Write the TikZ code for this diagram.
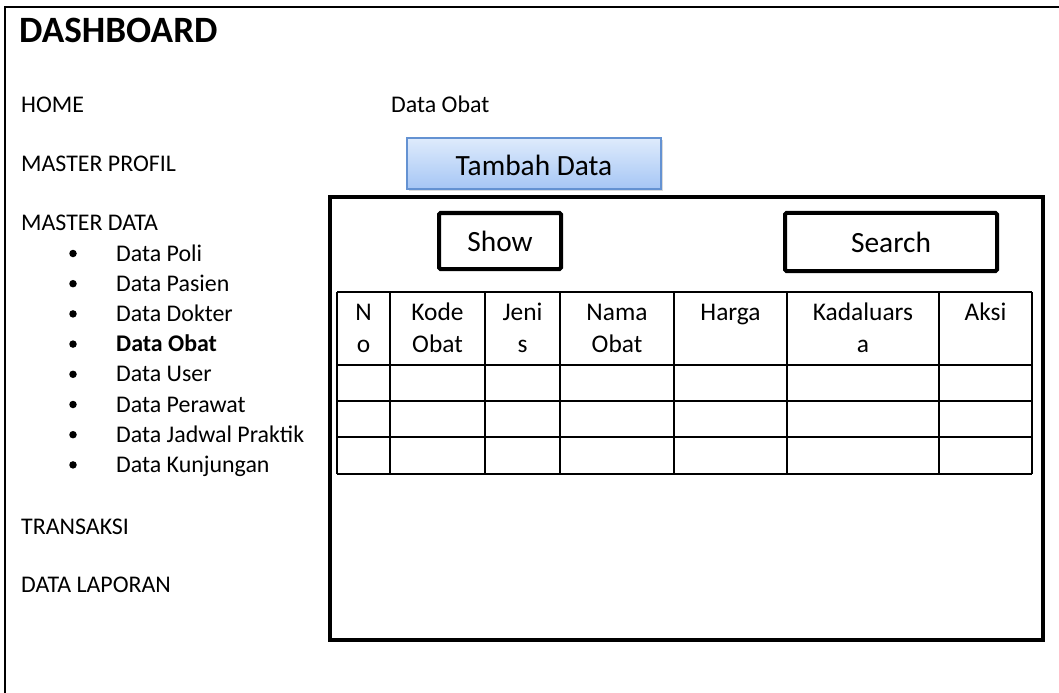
\documentclass[tikz,border=0pt]{standalone}
\usepackage{fontspec}
\setmainfont{Carlito}
\usetikzlibrary{positioning}
\usetikzlibrary{shadows}

\definecolor{btntop}{RGB}{222,235,252}
\definecolor{btnbot}{RGB}{166,198,245}
\definecolor{btnline}{RGB}{100,146,210}

\tikzset{
  menu/.style={anchor=base west,inner sep=0pt,font=\fontsize{24}{29}\selectfont},
  boxed/.style={draw,line width=4bp,rounded corners=1.5bp,font=\fontsize{29.5}{34}\selectfont},
  hdr/.style={anchor=north,inner sep=0pt,align=center,font=\fontsize{25.5}{33}\selectfont},
  dot/.style={fill,circle,inner sep=0pt,minimum size=7.5bp}
}

\begin{document}
\begin{tikzpicture}[x=1bp,y=-1bp,line join=miter]
\useasboundingbox (0,0) rectangle (1059,693);
%% outer frame
\draw[line width=2.2bp] (5,693) -- (5,7) -- (1059,7);
\node (title) at (19,43) [anchor=base west,inner sep=0pt,font=\fontsize{37.3}{40}\selectfont\bfseries] {DASHBOARD};
%% side menu
\node (home) at (21,113) [menu] {HOME};
\node (profil) at (21,172) [menu] {MASTER PROFIL};
\node (master) at (21,230) [menu] {MASTER DATA};
\foreach \name/\txt [count=\i from 0] in {poli/Data Poli,pasien/Data Pasien,dokter/Data Dokter,obat/\textbf{Data Obat},user/Data User,perawat/Data Perawat,jadwal/Data Jadwal Praktik,kunjungan/Data Kunjungan}{
  \node (\name) at (116,261+30.2*\i) [menu] {\txt};
  \node (b\name) at (73,253.5+30.2*\i) [dot] {};
}
\node (transaksi) at (21,534) [menu] {TRANSAKSI};
\node (laporan) at (21,592) [menu] {DATA LAPORAN};
%% content
\node (page) at (391,113) [menu] {Data Obat};
\node (tambah) at (534,163.5) [draw=btnline,line width=1.2bp,top color=btntop,bottom color=btnbot,
  minimum width=254bp,minimum height=51bp,inner sep=0pt,text height=24bp,text depth=0pt,
  drop shadow={opacity=0.3,shadow xshift=1.5bp,shadow yshift=-2bp},
  font=\fontsize{29.5}{34}\selectfont] {Tambah Data};
\draw[line width=4bp] (330,197) rectangle (1043,640);
\node (show) at (500,241) [boxed,minimum width=122bp,minimum height=56bp] {Show};
\node (search) at (891,242) [boxed,minimum width=212bp,minimum height=58bp] {Search};
%% table
\foreach \x in {337,390,485,560,674,787,939,1032}
  \draw[line width=1.5bp] (\x,292) -- (\x,474);
\foreach \y in {292,365,401,437,474}
  \draw[line width=1.5bp] (337,\y) -- (1032,\y);
\node (no) at (363.5,296.9) [hdr] {\strut N\\\strut o};
\node (kode) at (437.5,296.9) [hdr] {\strut Kode\\\strut Obat};
\node (jenis) at (522.5,296.9) [hdr] {\strut Jeni\\\strut s};
\node (nama) at (617,296.9) [hdr] {\strut Nama\\\strut Obat};
\node (harga) at (730.5,296.9) [hdr] {\strut Harga};
\node (kadaluarsa) at (863,296.9) [hdr] {\strut Kadaluars\\\strut a};
\node (aksi) at (985.5,296.9) [hdr] {\strut Aksi};
%
\end{tikzpicture}
\end{document}
